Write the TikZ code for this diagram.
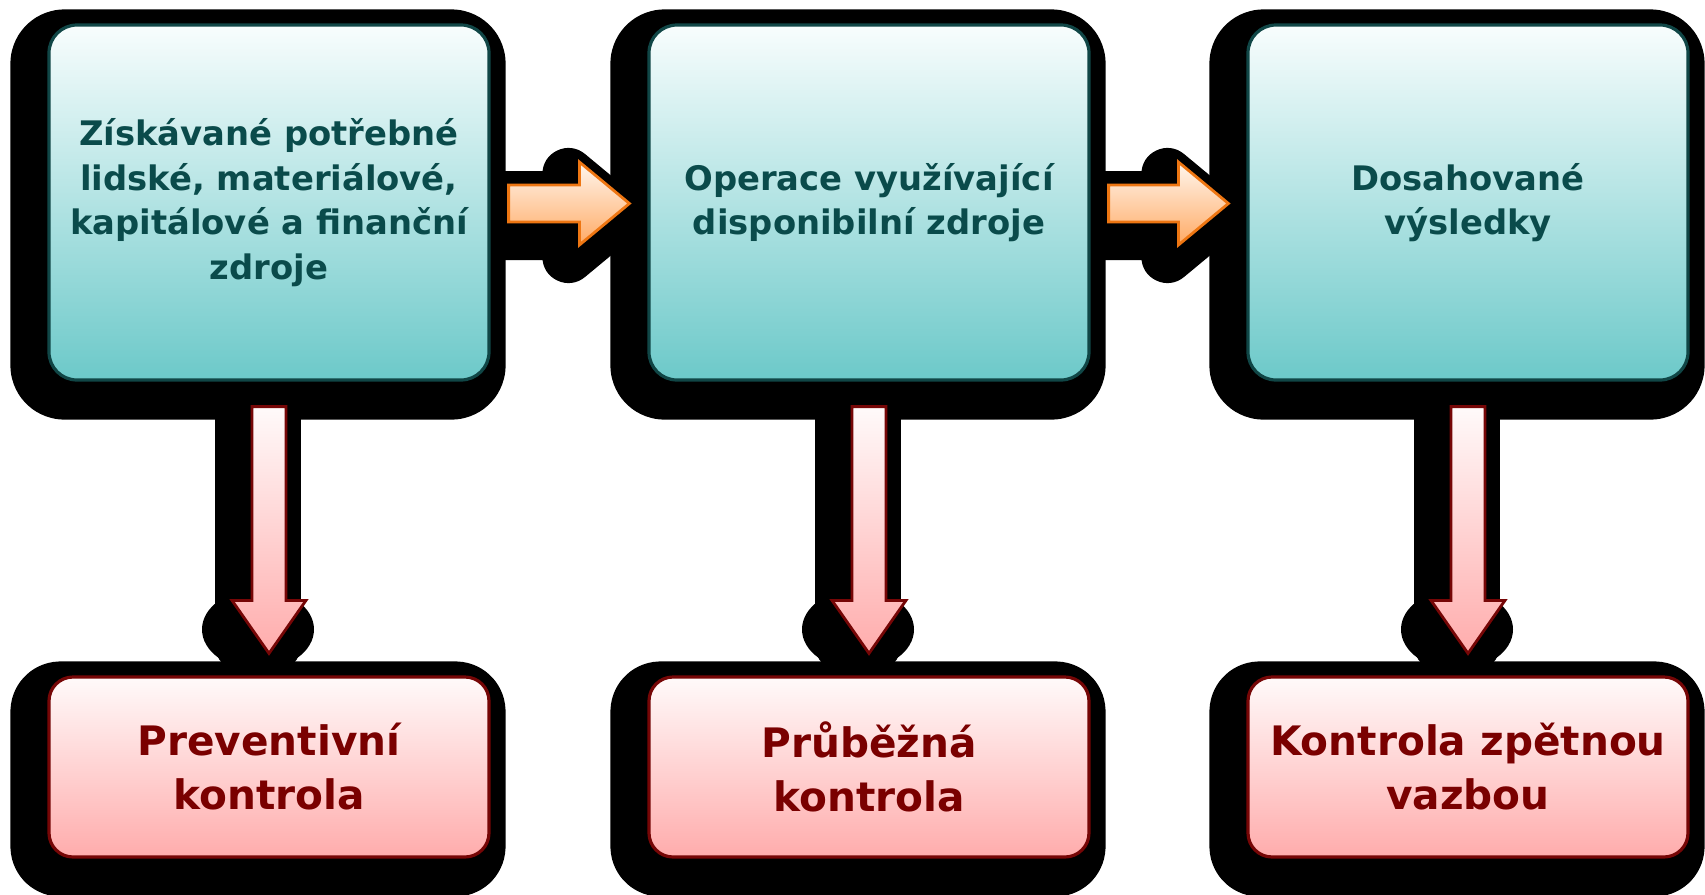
\documentclass[tikz,border=0pt]{standalone}
\usepackage{fontspec}
\setmainfont{DejaVu Sans}
\usetikzlibrary{calc,backgrounds}
\definecolor{tealtop}{RGB}{248,253,253}
\definecolor{tealbot}{RGB}{108,201,201}
\definecolor{tealline}{RGB}{16,70,70}
\definecolor{tealtext}{RGB}{10,75,75}
\definecolor{pinktop}{RGB}{255,250,250}
\definecolor{pinkbot}{RGB}{255,172,172}
\definecolor{redline}{RGB}{118,6,6}
\definecolor{redtext}{RGB}{122,0,0}
\definecolor{orgtop}{RGB}{255,246,238}
\definecolor{orgbot}{RGB}{255,170,100}
\definecolor{orgline}{RGB}{238,118,18}
\newcommand{\HArrowShape}[2]{($(#1)+(0,-18.5)$) -- ($(#2)+(-50,-18.5)$) -- ($(#2)+(-50,-41.5)$) -- (#2) -- ($(#2)+(-50,41.5)$) -- ($(#2)+(-50,18.5)$) -- ($(#1)+(0,18.5)$) -- cycle}
\newcommand{\VArrowShape}[2]{($(#1)+(-17,0)$) -- ($(#2)+(-17,-53)$) -- ($(#2)+(-37,-53)$) -- (#2) -- ($(#2)+(37,-53)$) -- ($(#2)+(17,-53)$) -- ($(#1)+(17,0)$) -- cycle}
\begin{document}
\begin{tikzpicture}[x=0.5pt,y=-0.5pt,
  tealbox/.style={rectangle, rounded corners=14pt, minimum width=220pt, minimum height=177.5pt,
    top color=tealtop, bottom color=tealbot, draw=tealline, line width=1.6pt, text=tealtext,
    align=center, font=\bfseries\fontsize{16.9}{22.25}\selectfont, inner sep=0pt},
  pinkbox/.style={rectangle, rounded corners=12pt, minimum width=220pt, minimum height=90pt,
    top color=pinktop, bottom color=pinkbot, draw=redline, line width=1.6pt, text=redtext,
    align=center, font=\bfseries\fontsize{20.3}{27}\selectfont, inner sep=0pt},
  halo/.style={fill=black, draw=black, line width=26pt, line join=round},
  haloblob/.style={fill=black},
  harrowfill/.style={top color=orgtop, bottom color=orgbot, draw=orgline, line width=1.4pt, line join=miter},
  varrowfill/.style={top color=pinktop, bottom color=pinkbot, draw=redline, line width=1.4pt, line join=miter},
]
\useasboundingbox (0,0) rectangle (1705,895);

\node[tealbox] (t1) at (269,202.5) {Získávané potřebné\\lidské, materiálové,\\kapitálové a finanční\\zdroje};
\node[tealbox] (t2) at (869,202.5) {Operace využívající\\disponibilní zdroje};
\node[tealbox] (t3) at (1468,202.5) {Dosahované\\výsledky};
\node[pinkbox] (p1) at (269,767) {Preventivní\\kontrola};
\node[pinkbox] (p2) at (869,767) {Průběžná\\kontrola};
\node[pinkbox] (p3) at (1468,767) {Kontrola zpětnou\\vazbou};

% arrow end points
\coordinate (h1s) at ($(t1.east)+(18,1)$);
\coordinate (h1e) at ($(t2.west)+(-18,1)$);
\coordinate (h2s) at ($(t2.east)+(18,1)$);
\coordinate (h2e) at ($(t3.west)+(-18,1)$);
\coordinate (v1s) at ($(t1.south)+(0,25)$);
\coordinate (v1e) at ($(p1.north)+(0,-22)$);
\coordinate (v2s) at ($(t2.south)+(0,25)$);
\coordinate (v2e) at ($(p2.north)+(0,-22)$);
\coordinate (v3s) at ($(t3.south)+(0,25)$);
\coordinate (v3e) at ($(p3.north)+(0,-22)$);
% shifted copies for the black halo
\foreach \c in {h1s,h1e,h2s,h2e,v1s,v1e,v2s,v2e,v3s,v3e}{
  \coordinate (\c S) at ($(\c)+(-11,12)$);
}

\draw[harrowfill] \HArrowShape{h1s}{h1e};
\draw[harrowfill] \HArrowShape{h2s}{h2e};
\draw[varrowfill] \VArrowShape{v1s}{v1e};
\draw[varrowfill] \VArrowShape{v2s}{v2e};
\draw[varrowfill] \VArrowShape{v3s}{v3e};

\begin{scope}[on background layer]
  \foreach \n in {t1,t2,t3}{
    \draw[halo, rounded corners=14pt] ($(\n.north west)+(-11,12)$) rectangle ($(\n.south east)+(-11,12)$);
  }
  \foreach \n in {p1,p2,p3}{
    \draw[halo, rounded corners=12pt] ($(\n.north west)+(-11,12)$) rectangle ($(\n.south east)+(-11,12)$);
  }
  \draw[halo] \HArrowShape{h1sS}{h1eS};
  \draw[halo] \HArrowShape{h2sS}{h2eS};
  \foreach \v in {v1,v2,v3}{
    \draw[halo] ($(\v sS)+(-17,0)$) rectangle ($(\v eS)+(17,-20)$);
    \fill[haloblob] ($(\v eS)+(0,-36)$) ellipse [x radius=56, y radius=40];
  }
\end{scope}
\end{tikzpicture}
\end{document}
